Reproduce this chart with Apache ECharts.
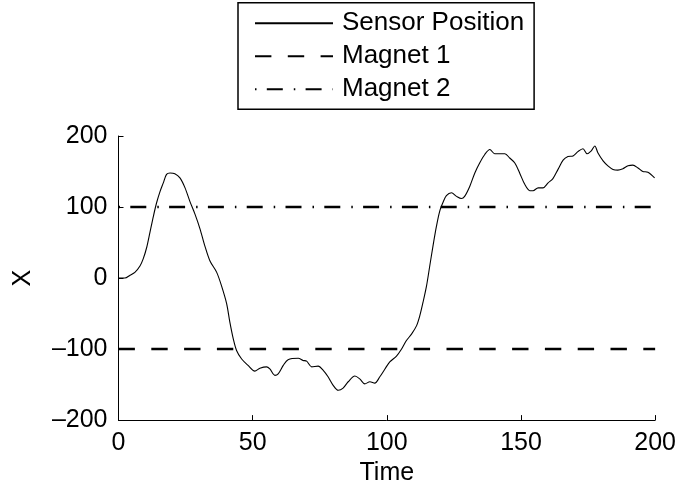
<!DOCTYPE html>
<html>
<head>
<meta charset="utf-8">
<script src="https://cdn.jsdelivr.net/npm/echarts@6/dist/echarts.min.js"></script>
<style>html,body{margin:0;padding:0;background:#fff;}#c{width:679px;height:491px;}</style>
</head>
<body>
<div id="c"></div>
<script>
// ---- data ----
const timeValues = [0, 2.4, 4.3, 6.1, 8, 9.2, 10.5, 11.7, 13, 14.2, 15.5, 16.7, 17.9, 19.2, 21, 22.9, 24.8, 26.6, 28.5, 30.4,
  32.2, 34.1, 36.6, 38.4, 40.3, 41.5, 42.8, 44, 45.9, 48.3, 50.8, 52.7, 55.2, 56.4, 58.3, 59.5, 61.4, 63.2, 67, 68.8,
  70.1, 72, 74.4, 76.3, 78.1, 80, 81.9, 83.7, 85.6, 88.1, 89.9, 91.8, 93.7, 95.5, 97.4, 99.3, 101.1, 103.6, 105.5, 107.3,
  109.2, 111.1, 112.3, 113.5, 114.8, 116, 117.2, 118.5, 119.7, 121, 122.2, 124.1, 126, 127.8, 129, 130.9, 132.8, 134.6, 136.5, 138.4,
  140.2, 142.1, 144, 145.8, 147.7, 149.5, 151.4, 153.3, 154.5, 156.4, 158.2, 160.1, 161.9, 163.8, 165.7, 167.5, 169.4, 171.2, 173.1, 174.6,
  176.2, 177.5, 178.7, 180.6, 182.4, 184.3, 186.1, 188, 189.9, 191.7, 193.6, 195.4, 197.3, 199.8];
const sensorValues = [0, 0, 4, 8, 17, 27, 43, 64, 87, 106, 122, 134, 146, 148, 147, 141, 127, 108, 90, 69,
  45, 24, 8, -11, -36, -62, -86, -102, -114, -123, -131, -127, -125, -128, -137, -135, -123, -115, -113, -116,
  -117, -125, -124, -130, -139, -151, -158, -155, -146, -138, -142, -149, -146, -148, -139, -128, -118, -110, -100, -88,
  -79, -67, -53, -34, -11, 17, 45, 73, 94, 107, 116, 120, 115, 112, 115, 129, 148, 162, 174, 181,
  175, 175, 175, 169, 162, 148, 132, 123, 123, 127, 127, 134, 140, 153, 166, 171, 172, 178, 182, 175,
  179, 186, 176, 165, 158, 153, 152, 154, 158, 159, 155, 150, 149, 141];
const magnetSpan = [0, 200];
const magnet1Value = -100;
const magnet2Value = 100;
const seriesNames = ['Sensor Position', 'Magnet 1', 'Magnet 2'];
const xTicks = [0, 50, 100, 150, 200];
const yTicks = [-200, -100, 0, 100, 200];

// ---- chart ----
const FONT = 'Liberation Sans, Arial, Helvetica, sans-serif';
const fmt = v => String(v).replace('-', '\u2013');
const chart = echarts.init(document.getElementById('c'), null, {renderer: 'canvas'});
chart.setOption({
  animation: false,
  backgroundColor: '#fff',
  grid: {left: 118.5, right: 23.5, top: 136, bottom: 69.3, containLabel: false},
  legend: {
    orient: 'vertical', left: 238, top: 2.7,
    padding: [7.6, 10, 7, 16],
    itemWidth: 78, itemHeight: 14, itemGap: 7,
    borderColor: '#000', borderWidth: 1.5,
    backgroundColor: '#fff',
    itemStyle: {opacity: 0, borderWidth: 0},
    textStyle: {fontSize: 26, fontFamily: FONT, color: '#000', lineHeight: 26, padding: [0, 0, 0, 4]},
    data: seriesNames
  },
  xAxis: {
    type: 'value', min: xTicks[0], max: xTicks[xTicks.length - 1], interval: 50,
    name: 'Time', nameLocation: 'middle', nameGap: 36,
    nameTextStyle: {fontSize: 25, fontFamily: FONT, color: '#000'},
    axisLine: {show: true, onZero: false, lineStyle: {color: '#000', width: 1}},
    axisTick: {show: true, inside: true, length: 5, lineStyle: {color: '#000', width: 1}},
    axisLabel: {fontSize: 25, fontFamily: FONT, color: '#000', margin: 11, formatter: fmt},
    splitLine: {show: false}
  },
  yAxis: {
    type: 'value', min: yTicks[0], max: yTicks[yTicks.length - 1], interval: 100,
    name: 'X', nameLocation: 'middle', nameGap: 83,
    nameTextStyle: {fontSize: 25, fontFamily: FONT, color: '#000'},
    axisLine: {show: true, onZero: false, lineStyle: {color: '#000', width: 1}},
    axisTick: {show: true, inside: true, length: 5, lineStyle: {color: '#000', width: 1}},
    axisLabel: {fontSize: 25, fontFamily: FONT, color: '#000', margin: 11, formatter: fmt},
    splitLine: {show: false}
  },
  series: [
    {
      name: seriesNames[0], type: 'line', symbol: 'none', smooth: 0.3,
      data: timeValues.map((t, i) => [t, sensorValues[i]]),
      lineStyle: {color: '#000', width: 1.1},
      itemStyle: {color: '#000'}, z: 3
    },
    {
      name: seriesNames[1], type: 'line', symbol: 'none',
      data: magnetSpan.map(t => [t, magnet1Value]),
      lineStyle: {color: '#000', width: 2.5, type: [16.4, 16.4]},
      itemStyle: {color: '#000'}, z: 2
    },
    {
      name: seriesNames[2], type: 'line', symbol: 'none',
      data: magnetSpan.map(t => [t, magnet2Value]),
      lineStyle: {color: '#000', width: 2.5, type: [1.5, 10.3, 16, 11]},
      itemStyle: {color: '#000'}, z: 2
    }
  ]
});
</script>
</body>
</html>
